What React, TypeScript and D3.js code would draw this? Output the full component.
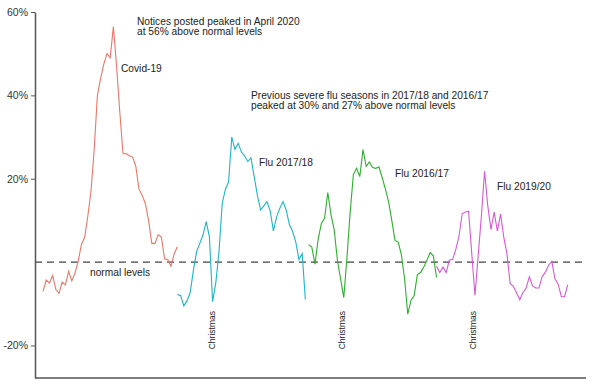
import React, { useRef, useEffect } from "react";
import * as d3 from "d3";

// weekly-ish readings, % above/below normal levels
const covid = [-7, -4.3, -5, -3.2, -6.5, -7.5, -4.8, -5.5, -2.2, -4.5, -2.6, 0.2, 4.2, 5.9, 11, 17, 27, 40, 44, 47.5, 50, 49, 56.5, 47, 36, 26, 26, 25.5, 25.2, 23, 17.5, 16, 14, 10, 4.5, 4.5, 6.6, 6, 0.8, 0.6, -1, 2, 3.7];
const flu1718 = [-7.8, -8, -10.5, -9.3, -7.3, -2, 2.5, 4.5, 6.5, 9.7, 6.1, -9.5, -5, 2.5, 14, 17.5, 19.2, 30, 27, 28.5, 26.4, 25.5, 24.1, 25, 20.5, 16, 12.5, 13.5, 14.5, 12.3, 7.5, 10.8, 12.9, 14.5, 12.5, 9, 7.4, 4.8, 0.6, 2, -9];
const flu1617 = [4.2, 3.6, -0.5, 5.5, 9.3, 10.5, 16.7, 11.4, 7.8, 0.5, -4, -8.5, 1.1, 12, 21, 22.5, 20.5, 27, 23, 24, 22.7, 22.5, 22.8, 20.3, 17.5, 14.5, 10, 5.2, 4.8, 1.8, -4, -12.5, -9.2, -8, -3, -2.5, -1.2, 0.5, 2.3, 1.5, -3.7];
const flu1920 = [-1, -2.5, -1.2, -2.5, 0.5, 0.6, 3, 6.2, 11.6, 12, 12.2, 2, -8, 1.5, 11, 21.8, 13.5, 7.8, 12, 7.5, 11.5, 6, 2, -5.2, -5.8, -7.4, -9, -7.3, -6.2, -3.5, -5.7, -6.2, -6.2, -3.5, -2.4, -0.8, 0.2, -4, -5.3, -8.3, -8.3, -5.4];

const seriesNames = ["Covid-19", "Flu 2017/18", "Flu 2016/17", "Flu 2019/20"];
const seriesStart = [0, 42, 83, 123]; // week index where each season starts
const seriesValues = [covid, flu1718, flu1617, flu1920];
const seriesColors = ["#E8786A", "#1DB5C5", "#2EAF2E", "#D65AD6"];

const christmasWeeks = [52.7, 93.3, 134.5];
const yTicks = [60, 40, 20, -20];

const W = 614;
const H = 392;

const Chart = () => {
  const ref = useRef(null);

  useEffect(() => {
    const svg = d3.select(ref.current);
    svg.selectAll("*").remove();

    const x = d3.scaleLinear().domain([-2.5, 169.7]).range([35, 586]);
    const y = d3.scaleLinear().domain([-27.8, 60]).range([378, 12]);
    const font = "Liberation Sans, Arial, sans-serif";

    // normal level dashed line
    svg
      .append("line")
      .attr("x1", x(-2.5))
      .attr("x2", x(169.7))
      .attr("y1", y(0))
      .attr("y2", y(0))
      .attr("stroke", "#444")
      .attr("stroke-width", 1.3)
      .attr("stroke-dasharray", "7,5");

    // the four seasons
    const line = d3
      .line()
      .x((d) => x(d[0]))
      .y((d) => y(d[1]));

    seriesValues.forEach((vals, k) => {
      const pts = vals.map((v, i) => [seriesStart[k] + i, v]);
      svg
        .append("path")
        .attr("d", line(pts))
        .attr("fill", "none")
        .attr("stroke", seriesColors[k])
        .attr("stroke-width", 1.1);
    });

    // y axis
    const yAxis = svg
      .append("g")
      .attr("transform", `translate(${x(-2.5)},0)`)
      .call(
        d3
          .axisLeft(y)
          .tickValues(yTicks)
          .tickSize(4)
          .tickSizeOuter(0)
          .tickPadding(3)
          .tickFormat((d) => d + "%")
      );
    yAxis.select(".domain").attr("stroke", "#555").attr("stroke-width", 1.5);
    yAxis.selectAll(".tick line").attr("stroke", "#555");
    yAxis
      .selectAll(".tick text")
      .attr("fill", "#333")
      .style("font-family", font)
      .style("font-size", "10.5px");

    // x axis (just a baseline)
    svg
      .append("line")
      .attr("x1", x(-2.5))
      .attr("x2", x(169.7))
      .attr("y1", y(-27.8))
      .attr("y2", y(-27.8))
      .attr("stroke", "#555")
      .attr("stroke-width", 1.5);

    const label = (txt, lx, ly, size = 10.2) =>
      svg
        .append("text")
        .attr("x", lx)
        .attr("y", ly)
        .attr("fill", "#222")
        .style("font-family", font)
        .style("font-size", size + "px")
        .text(txt);

    // series labels
    label(seriesNames[0], 121, 72);
    label(seriesNames[1], 259, 166);
    label(seriesNames[2], 395, 176.5);
    label(seriesNames[3], 497, 190);
    label("normal levels", 90, 275.5);

    // annotations
    label("Notices posted peaked in April 2020", 137, 25);
    label("at 56% above normal levels", 137, 35);
    label("Previous severe flu seasons in 2017/18 and 2016/17", 251, 99);
    label("peaked at 30% and 27% above normal levels", 251, 109);

    // christmas markers
    christmasWeeks.forEach((w) => {
      svg
        .append("text")
        .attr("transform", `translate(${x(w)},311) rotate(-90)`)
        .attr("text-anchor", "end")
        .attr("dy", "0.35em")
        .attr("fill", "#222")
        .style("font-family", font)
        .style("font-size", "8.5px")
        .text("Christmas");
    });
  }, []);

  return <svg ref={ref} width={W} height={H} style={{ display: "block" }} />;
};

export default function App() {
  return (
    <div>
      <style>{`body{margin:0;background:#fff}`}</style>
      <Chart />
    </div>
  );
}
